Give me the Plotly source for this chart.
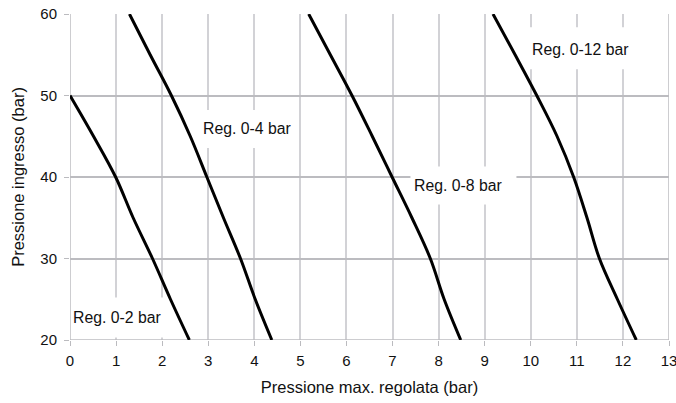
import plotly.graph_objects as go

# Data
inlet_pressure = [60, 55, 50, 45, 40, 35, 30, 25, 20]
reg_0_2_y = [50, 45, 40, 35, 30, 25, 20]
reg_0_2_x = [0.0, 0.51, 0.99, 1.37, 1.79, 2.18, 2.59]
reg_0_4_x = [1.29, 1.74, 2.20, 2.61, 2.97, 3.33, 3.70, 4.02, 4.38]
reg_0_8_x = [5.18, 5.65, 6.12, 6.56, 6.99, 7.42, 7.82, 8.12, 8.48]
reg_0_12_x = [9.18, 9.66, 10.13, 10.57, 10.93, 11.22, 11.49, 11.88, 12.29]

labels = ["Reg. 0-2 bar", "Reg. 0-4 bar", "Reg. 0-8 bar", "Reg. 0-12 bar"]
label_x = [0.05, 3.84, 8.43, 11.08]
label_y = [22.75, 45.9, 38.96, 55.67]
label_anchor = ["left", "center", "center", "center"]

x_ticks = list(range(0, 14))
y_ticks = [20, 30, 40, 50, 60]

font_family = "Liberation Sans, Arial, Helvetica, sans-serif"

fig = go.Figure()
series = [(reg_0_2_x, reg_0_2_y), (reg_0_4_x, inlet_pressure),
          (reg_0_8_x, inlet_pressure), (reg_0_12_x, inlet_pressure)]
for xs, ys in series:
    fig.add_trace(go.Scatter(x=xs, y=ys, mode="lines",
                             line=dict(color="black", width=3, shape="spline", smoothing=1.0),
                             showlegend=False, hoverinfo="skip"))

# white boxes behind the labels (between gridlines and curves), pixel-sized
box_px = [(-3, 93, -20, 20), (-50, 50, -19, 19), (-48, 58, -19, 19), (-55, 55, -20, 22)]
for x, y, (bx0, bx1, by0, by1) in zip(label_x, label_y, box_px):
    fig.add_shape(type="rect", xref="x", yref="y", xsizemode="pixel", ysizemode="pixel",
                  xanchor=x, yanchor=y, x0=bx0, x1=bx1, y0=by0, y1=by1,
                  fillcolor="white", line=dict(width=0), layer="between")

for t, x, y, a in zip(labels, label_x, label_y, label_anchor):
    fig.add_annotation(x=x, y=y, text=t, showarrow=False, xanchor=a, yanchor="middle",
                       borderpad=0, font=dict(size=15.8, color="#111", family=font_family))

fig.update_layout(
    width=676, height=403,
    margin=dict(l=70, r=7, t=14, b=63),
    paper_bgcolor="white", plot_bgcolor="white",
    font=dict(family=font_family, size=15, color="#111"),
    xaxis=dict(range=[0, 13], tickvals=x_ticks, showgrid=True, gridcolor="#d2d2d6", gridwidth=1.5,
               zeroline=False, showline=False, ticks="outside", ticklen=5, tickcolor="#bbbbbf",
               title=dict(text="Pressione max. regolata (bar)", standoff=13, font=dict(size=16.5)),
               ticklabelstandoff=2, ticklabeloverflow="allow", automargin=False),
    yaxis=dict(range=[20, 60], tickvals=y_ticks, showgrid=True, gridcolor="#bcbcc0", gridwidth=1.5,
               zeroline=False, showline=False, ticks="outside", ticklen=5, tickcolor="#bbbbbf",
               title=dict(text="Pressione ingresso (bar)", standoff=11, font=dict(size=16.5)),
               ticklabelstandoff=4, automargin=False),
)
fig.add_shape(type="line", xref="x", yref="y", x0=13, x1=13, y0=20, y1=60,
              line=dict(color="#bcbcc0", width=1.5), layer="between")
fig.add_shape(type="line", xref="x", yref="y", x0=0, x1=0, y0=20, y1=60,
              line=dict(color="#bcbcc0", width=1.5), layer="between")
fig.add_shape(type="line", xref="x", yref="y", x0=0, x1=13, y0=20, y1=20,
              line=dict(color="#bcbcc0", width=1.5), layer="between")

fig.write_html("out.html", config={"displayModeBar": False},
               post_script="document.body.style.margin='0';")
